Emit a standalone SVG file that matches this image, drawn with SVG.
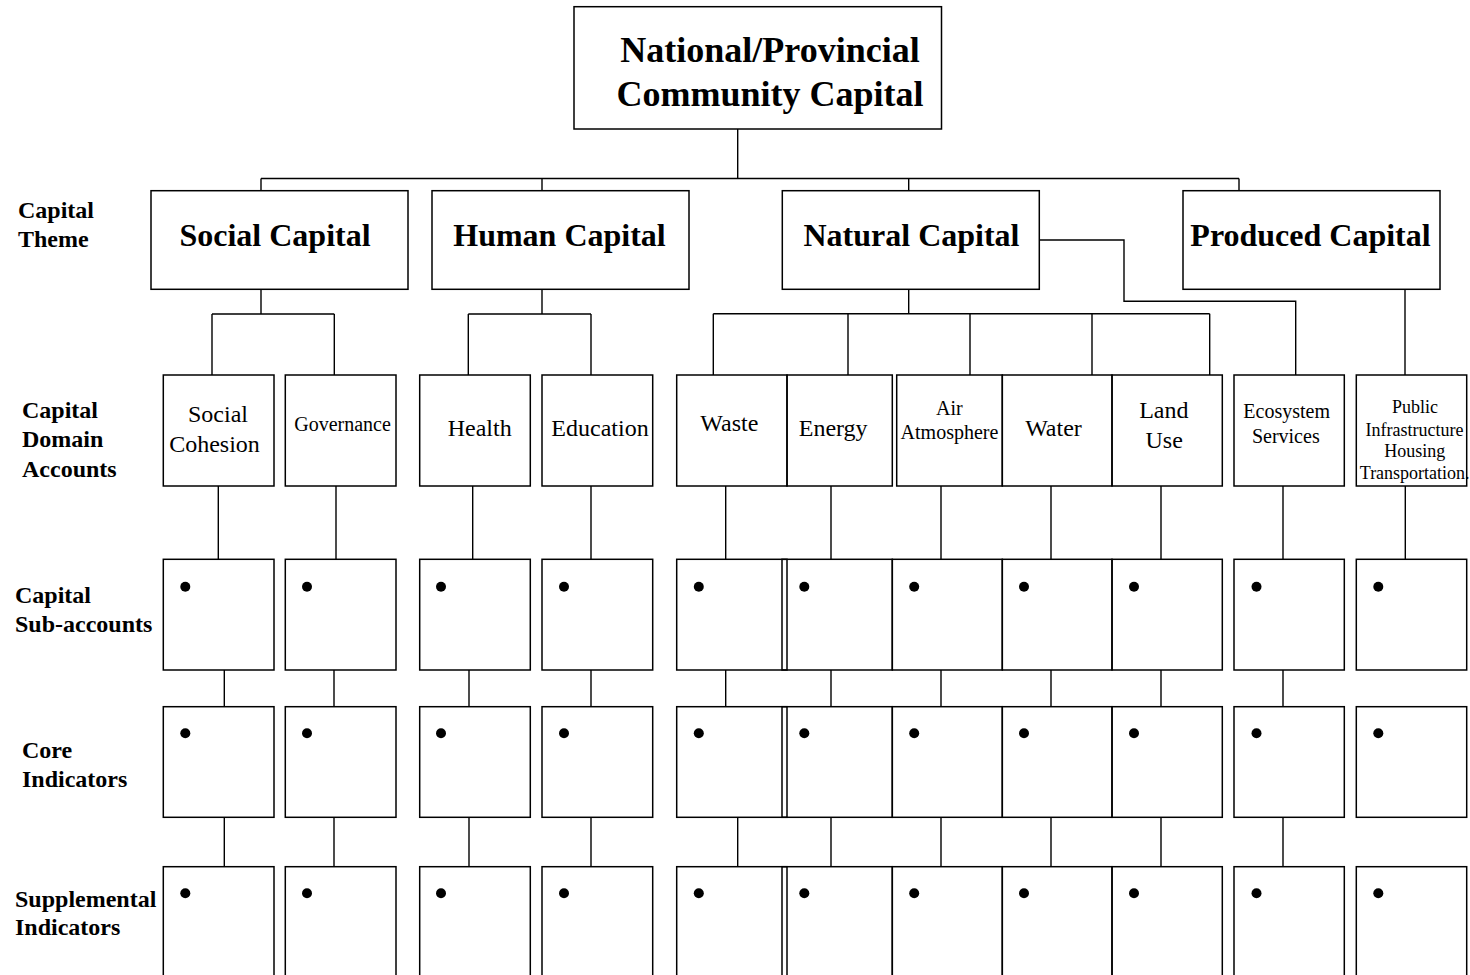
<svg xmlns="http://www.w3.org/2000/svg" width="1470" height="975" viewBox="0 0 1470 975">
  <style>
    .box { fill: none; stroke: #000; stroke-width: 1.5; }
    .wire { fill: none; stroke: #000; stroke-width: 1.4; }
    .dot circle { fill: #000; r: 5px; }
    text { font-family: "Liberation Serif", "Times New Roman", serif; fill: #000; }
    .root { font-size: 36px; font-weight: bold; text-anchor: middle; }
    .theme { font-size: 32px; font-weight: bold; text-anchor: middle; }
    .row { font-size: 24px; font-weight: bold; }
    .dom { font-size: 24px; text-anchor: middle; }
    .dom-s { font-size: 20px; text-anchor: middle; }
    .dom-xs { font-size: 18px; text-anchor: middle; }
  </style>

  <rect x="0" y="0" width="1470" height="975" fill="#fff"/>

  <!-- row labels -->
  <g id="row-labels">
    <text class="row" x="18" y="218">Capital</text>
    <text class="row" x="18" y="247">Theme</text>
    <text class="row" x="22" y="418">Capital</text>
    <text class="row" x="22" y="447">Domain</text>
    <text class="row" x="22" y="477">Accounts</text>
    <text class="row" x="15" y="603">Capital</text>
    <text class="row" x="15" y="632">Sub-accounts</text>
    <text class="row" x="22" y="758">Core</text>
    <text class="row" x="22" y="787">Indicators</text>
    <text class="row" x="15" y="907">Supplemental</text>
    <text class="row" x="15" y="935">Indicators</text>
  </g>

  <!-- connectors -->
  <g id="connectors" class="wire">
    <path d="M737.7 129 V178.5 M261 178.5 H1239 M261 178.5 V190.7 M542 178.5 V190.7 M908.7 178.5 V190.7 M1239 178.5 V190.7"/>
    <path d="M261 289.3 V314 M212 314 H334.3 M212 314 V375 M334.3 314 V375"/>
    <path d="M542 289.3 V314 M468.3 314 H591 M468.3 314 V375 M591 314 V375"/>
    <path d="M908.7 289.3 V313.7 M713.3 313.7 H1209.7 M713.3 313.7 V375 M848 313.7 V375 M970 313.7 V375 M1092 313.7 V375 M1209.7 313.7 V375"/>
    <path d="M1039.3 240 H1124 V301.3 H1295.7 V375"/>
    <path d="M1405 289.3 V375"/>
    <!-- domain accounts to sub-accounts -->
    <path d="M218.3 486 V559.3 M336 486 V559.3 M472.7 486 V559.3 M591 486 V559.3 M725.7 486 V559.3 M831 486 V559.3 M941 486 V559.3 M1051 486 V559.3 M1161 486 V559.3 M1283 486 V559.3 M1405.3 486 V559.3"/>
    <!-- sub-accounts to core indicators -->
    <path d="M224.3 670 V706.7 M334 670 V706.7 M469 670 V706.7 M591 670 V706.7 M725.7 670 V706.7 M831 670 V706.7 M941 670 V706.7 M1051 670 V706.7 M1161 670 V706.7 M1283 670 V706.7"/>
    <!-- core to supplemental indicators -->
    <path d="M224.3 817.3 V866.7 M334 817.3 V866.7 M469 817.3 V866.7 M591 817.3 V866.7 M737.7 817.3 V866.7 M831 817.3 V866.7 M941 817.3 V866.7 M1051 817.3 V866.7 M1161 817.3 V866.7 M1283 817.3 V866.7"/>
  </g>

  <!-- root -->
  <g id="root">
    <rect class="box" x="574" y="6.7" width="367.5" height="122.3"/>
    <text class="root" x="770" y="62">National/Provincial</text>
    <text class="root" x="770" y="106">Community Capital</text>
  </g>

  <!-- capital themes -->
  <g id="theme-social">
    <rect class="box" x="151" y="190.7" width="257" height="98.6"/>
    <text class="theme" x="275" y="246">Social Capital</text>
  </g>
  <g id="theme-human">
    <rect class="box" x="432" y="190.7" width="257" height="98.6"/>
    <text class="theme" x="559.5" y="246">Human Capital</text>
  </g>
  <g id="theme-natural">
    <rect class="box" x="782.3" y="190.7" width="257" height="98.6"/>
    <text class="theme" x="911.5" y="246">Natural Capital</text>
  </g>
  <g id="theme-produced">
    <rect class="box" x="1183" y="190.7" width="257" height="98.6"/>
    <text class="theme" x="1310.5" y="246">Produced Capital</text>
  </g>

  <!-- capital domain accounts -->
  <g id="dom-social-cohesion">
    <rect class="box" x="163.3" y="375" width="110.7" height="111"/>
    <text class="dom" x="218" y="422">Social</text>
    <text class="dom" x="214.5" y="452">Cohesion</text>
  </g>
  <g id="dom-governance">
    <rect class="box" x="285.3" y="375" width="110.7" height="111"/>
    <text class="dom-s" x="342.5" y="431">Governance</text>
  </g>
  <g id="dom-health">
    <rect class="box" x="419.7" y="375" width="110.6" height="111"/>
    <text class="dom" x="479.7" y="436">Health</text>
  </g>
  <g id="dom-education">
    <rect class="box" x="542" y="375" width="110.7" height="111"/>
    <text class="dom" x="600" y="436">Education</text>
  </g>
  <g id="dom-waste">
    <rect class="box" x="676.7" y="375" width="110.3" height="111"/>
    <text class="dom" x="729.3" y="431">Waste</text>
  </g>
  <g id="dom-energy">
    <rect class="box" x="787" y="375" width="105.3" height="111"/>
    <text class="dom" x="833.2" y="436">Energy</text>
  </g>
  <g id="dom-air">
    <rect class="box" x="896.7" y="375" width="105.6" height="111"/>
    <text class="dom-s" x="949.3" y="415">Air</text>
    <text class="dom-s" x="949.5" y="439">Atmosphere</text>
  </g>
  <g id="dom-water">
    <rect class="box" x="1002.3" y="375" width="109.7" height="111"/>
    <text class="dom" x="1053.5" y="436">Water</text>
  </g>
  <g id="dom-land-use">
    <rect class="box" x="1112" y="375" width="110.3" height="111"/>
    <text class="dom" x="1163.8" y="418">Land</text>
    <text class="dom" x="1164.2" y="448">Use</text>
  </g>
  <g id="dom-ecosystem">
    <rect class="box" x="1234" y="375" width="110.3" height="111"/>
    <text class="dom-s" x="1286.7" y="418">Ecosystem</text>
    <text class="dom-s" x="1285.8" y="443">Services</text>
  </g>
  <g id="dom-public">
    <rect class="box" x="1356.3" y="375" width="110.4" height="111"/>
    <text class="dom-xs" x="1415" y="413">Public</text>
    <text class="dom-xs" x="1414.5" y="436">Infrastructure</text>
    <text class="dom-xs" x="1414.8" y="457">Housing</text>
    <text class="dom-xs" x="1414.7" y="479">Transportation.</text>
  </g>

  <!-- capital sub-accounts -->
  <g id="sub-accounts">
    <rect class="box" x="163.3" y="559.3" width="110.7" height="110.7"/>
    <rect class="box" x="285.3" y="559.3" width="110.7" height="110.7"/>
    <rect class="box" x="419.7" y="559.3" width="110.6" height="110.7"/>
    <rect class="box" x="542" y="559.3" width="110.7" height="110.7"/>
    <rect class="box" x="676.7" y="559.3" width="110.3" height="110.7"/>
    <rect class="box" x="782" y="559.3" width="110.3" height="110.7"/>
    <rect class="box" x="892.3" y="559.3" width="110" height="110.7"/>
    <rect class="box" x="1002.3" y="559.3" width="109.7" height="110.7"/>
    <rect class="box" x="1112" y="559.3" width="110.3" height="110.7"/>
    <rect class="box" x="1234" y="559.3" width="110.3" height="110.7"/>
    <rect class="box" x="1356.3" y="559.3" width="110.4" height="110.7"/>
    <g class="dot">
      <circle cx="185.3" cy="586.7" r="5"/>
      <circle cx="307" cy="586.7" r="5"/>
      <circle cx="441" cy="586.7" r="5"/>
      <circle cx="564" cy="586.7" r="5"/>
      <circle cx="698.8" cy="586.7" r="5"/>
      <circle cx="804.3" cy="586.7" r="5"/>
      <circle cx="914.2" cy="586.7" r="5"/>
      <circle cx="1024" cy="586.7" r="5"/>
      <circle cx="1134" cy="586.7" r="5"/>
      <circle cx="1256.5" cy="586.7" r="5"/>
      <circle cx="1378.3" cy="586.7" r="5"/>
    </g>
  </g>

  <!-- core indicators -->
  <g id="core-indicators">
    <rect class="box" x="163.3" y="706.7" width="110.7" height="110.6"/>
    <rect class="box" x="285.3" y="706.7" width="110.7" height="110.6"/>
    <rect class="box" x="419.7" y="706.7" width="110.6" height="110.6"/>
    <rect class="box" x="542" y="706.7" width="110.7" height="110.6"/>
    <rect class="box" x="676.7" y="706.7" width="110.3" height="110.6"/>
    <rect class="box" x="782" y="706.7" width="110.3" height="110.6"/>
    <rect class="box" x="892.3" y="706.7" width="110" height="110.6"/>
    <rect class="box" x="1002.3" y="706.7" width="109.7" height="110.6"/>
    <rect class="box" x="1112" y="706.7" width="110.3" height="110.6"/>
    <rect class="box" x="1234" y="706.7" width="110.3" height="110.6"/>
    <rect class="box" x="1356.3" y="706.7" width="110.4" height="110.6"/>
    <g class="dot">
      <circle cx="185.3" cy="733.3" r="5"/>
      <circle cx="307" cy="733.3" r="5"/>
      <circle cx="441" cy="733.3" r="5"/>
      <circle cx="564" cy="733.3" r="5"/>
      <circle cx="698.8" cy="733.3" r="5"/>
      <circle cx="804.3" cy="733.3" r="5"/>
      <circle cx="914.2" cy="733.3" r="5"/>
      <circle cx="1024" cy="733.3" r="5"/>
      <circle cx="1134" cy="733.3" r="5"/>
      <circle cx="1256.5" cy="733.3" r="5"/>
      <circle cx="1378.3" cy="733.3" r="5"/>
    </g>
  </g>

  <!-- supplemental indicators (run past the lower edge) -->
  <g id="supplemental-indicators">
    <rect class="box" x="163.3" y="866.7" width="110.7" height="130"/>
    <rect class="box" x="285.3" y="866.7" width="110.7" height="130"/>
    <rect class="box" x="419.7" y="866.7" width="110.6" height="130"/>
    <rect class="box" x="542" y="866.7" width="110.7" height="130"/>
    <rect class="box" x="676.7" y="866.7" width="110.3" height="130"/>
    <rect class="box" x="782" y="866.7" width="110.3" height="130"/>
    <rect class="box" x="892.3" y="866.7" width="110" height="130"/>
    <rect class="box" x="1002.3" y="866.7" width="109.7" height="130"/>
    <rect class="box" x="1112" y="866.7" width="110.3" height="130"/>
    <rect class="box" x="1234" y="866.7" width="110.3" height="130"/>
    <rect class="box" x="1356.3" y="866.7" width="110.4" height="130"/>
    <g class="dot">
      <circle cx="185.3" cy="893.3" r="5"/>
      <circle cx="307" cy="893.3" r="5"/>
      <circle cx="441" cy="893.3" r="5"/>
      <circle cx="564" cy="893.3" r="5"/>
      <circle cx="698.8" cy="893.3" r="5"/>
      <circle cx="804.3" cy="893.3" r="5"/>
      <circle cx="914.2" cy="893.3" r="5"/>
      <circle cx="1024" cy="893.3" r="5"/>
      <circle cx="1134" cy="893.3" r="5"/>
      <circle cx="1256.5" cy="893.3" r="5"/>
      <circle cx="1378.3" cy="893.3" r="5"/>
    </g>
  </g>
</svg>
